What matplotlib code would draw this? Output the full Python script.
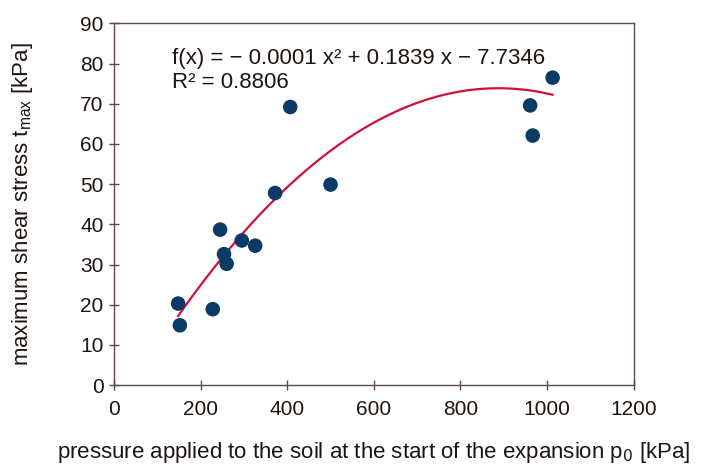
import numpy as np
import matplotlib
matplotlib.use("Agg")
import matplotlib.pyplot as plt

plt.rcParams['font.family'] = ['Liberation Sans', 'DejaVu Sans']

pressure = [148, 152, 228, 245, 254, 260, 295, 326, 372, 407, 500, 961, 967, 1013]
shear = [20.3, 14.9, 18.9, 38.7, 32.6, 30.2, 36.0, 34.7, 47.8, 69.2, 49.9, 69.6, 62.1, 76.5]
fit_coef = [-0.0001036, 0.1839, -7.7346]
eq_text = "f(x) = − 0.0001 x² + 0.1839 x − 7.7346\nR² = 0.8806"

x = np.array(pressure, dtype=float)
y = np.array(shear, dtype=float)
xf = np.linspace(x.min(), x.max(), 300)
yf = np.polyval(fit_coef, xf)

fig = plt.figure(figsize=(7.04, 4.68), dpi=100)
ax = fig.add_axes([0.162, 0.177, 0.738, 0.773])

axis_col = '#5a4a48'
txt_col = '#1e1410'
ax.plot(xf, yf, color='#d0103a', lw=1.6, zorder=2)
ax.scatter(x, y, s=110, color='#0b3a66', zorder=3, edgecolors='none')

ax.set_xlim(0, 1200)
ax.set_ylim(0, 90)
ax.set_xticks(np.arange(0, 1201, 200))
ax.set_yticks(np.arange(0, 91, 10))
for s in ax.spines.values():
    s.set_color(axis_col)
    s.set_linewidth(1.0)
ax.tick_params(direction='inout', length=7, width=1, color=axis_col,
               labelsize=15, labelcolor=txt_col, pad=4)
ax.tick_params(axis='x', pad=7)

ax.text(134, 78.3, eq_text, fontsize=16, color=txt_col, va='center', ha='left',
        linespacing=1.2)

ax.set_xlabel(r"pressure applied to the soil at the start of the expansion p$_0$ [kPa]",
              fontsize=16, color=txt_col, va='center')
ax.set_ylabel(r"maximum shear stress t$_{\mathregular{max}}$ [kPa]", fontsize=16,
              color=txt_col, va='center')
ax.xaxis.set_label_coords(0.5, -0.186)
ax.yaxis.set_label_coords(-0.177, 0.5)

fig.savefig("out.png", dpi=100)
